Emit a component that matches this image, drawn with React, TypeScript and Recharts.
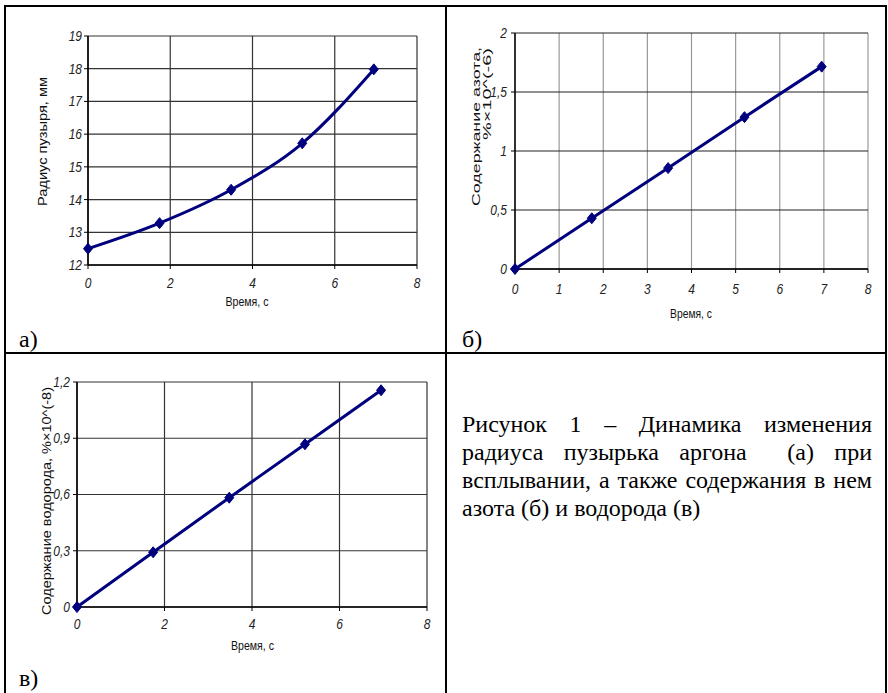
import React from 'react';
import { LineChart, Line, XAxis, YAxis, CartesianGrid } from 'recharts';

// а) радиус пузыря
const timeA = [0, 1.74, 3.48, 5.21, 6.95];
const radius = [12.5, 13.28, 14.3, 15.72, 17.98];
const radiusTicks = [12, 13, 14, 15, 16, 17, 18, 19];
const timeTicksA = [0, 2, 4, 6, 8];

// б) азот
const timeB = [0, 1.74, 3.47, 5.2, 6.95];
const nitrogen = [0, 0.43, 0.855, 1.287, 1.715];
const nitrogenTicks = [0, 0.5, 1, 1.5, 2];
const timeTicksB = [0, 1, 2, 3, 4, 5, 6, 7, 8];

// в) водород
const timeC = [0, 1.74, 3.48, 5.21, 6.95];
const hydrogen = [0, 0.292, 0.583, 0.868, 1.156];
const hydrogenTicks = [0, 0.3, 0.6, 0.9, 1.2];
const timeTicksC = [0, 2, 4, 6, 8];

const radiusData = timeA.map((t, i) => ({ t, v: radius[i] }));
const nitrogenData = timeB.map((t, i) => ({ t, v: nitrogen[i] }));
const hydrogenData = timeC.map((t, i) => ({ t, v: hydrogen[i] }));

const NAVY = '#00007f';
const SANS = 'Arial, "Liberation Sans", sans-serif';
const SERIF = '"Times New Roman", "Liberation Serif", "DejaVu Serif", serif';

const fmt = (v: number) => String(v).replace('.', ',');

function Diamond(props: any) {
    const { cx, cy, index } = props;
    if (cx == null || cy == null) return null;
    return (
        <polygon
            key={`dm-${index}`}
            points={`${cx},${cy - 5.5} ${cx + 4.5},${cy} ${cx},${cy + 5.5} ${cx - 4.5},${cy}`}
            fill={NAVY}
            stroke={NAVY}
            strokeWidth={1}
        />
    );
}

function YTick(props: any) {
    const { x, y, payload } = props;
    return (
        <g transform={`translate(${x},${y}) scale(0.8,1)`}>
            <text x={0} y={0} textAnchor="end" dominantBaseline="central" fontSize={15} fontStyle="italic" fontFamily={SANS} fill="#222">
                {fmt(payload.value)}
            </text>
        </g>
    );
}

function XTick(props: any) {
    const { x, y, payload } = props;
    return (
        <g transform={`translate(${x},${y}) scale(0.8,1)`}>
            <text x={0} y={0} dy="0.72em" textAnchor="middle" fontSize={15} fontStyle="italic" fontFamily={SANS} fill="#222">
                {fmt(payload.value)}
            </text>
        </g>
    );
}

const axisLine = { stroke: '#000', strokeWidth: 1.5 };
const tickLine = { stroke: '#000' };

function Title({ x, y, len, rotate, anchor = 'middle', size = 13, children }: any) {
    return (
        <text
            x={x}
            y={y}
            textAnchor={anchor}
            dominantBaseline="central"
            fontSize={size}
            fontFamily={SANS}
            fill="#111"
            textLength={len}
            lengthAdjust="spacingAndGlyphs"
            transform={rotate ? `rotate(-90 ${x} ${y})` : undefined}
        >
            {children}
        </text>
    );
}

function PanelLetter({ x, y, children }: any) {
    return (
        <text x={x} y={y} fontSize={24} fontFamily={SERIF} fill="#000">
            {children}
        </text>
    );
}

const overlay = (left: number, top: number, w: number, h: number): React.CSSProperties => ({
    position: 'absolute',
    left,
    top,
    width: w,
    height: h,
    pointerEvents: 'none',
});

const line = (s: React.CSSProperties): React.CSSProperties => ({ position: 'absolute', background: '#000', ...s });

export default function App() {
    return (
        <div style={{ position: 'absolute', left: 0, top: 0, width: 888, height: 693, background: '#fff', overflow: 'hidden' }}>
            {/* а) */}
            <div style={{ position: 'absolute', left: 0, top: 0 }}>
                <LineChart width={447} height={352} data={radiusData} margin={{ top: 36, right: 30, bottom: 57, left: 48 }}>
                    <CartesianGrid stroke="#333" strokeWidth={1.2} />
                    <XAxis type="number" dataKey="t" domain={[0, 8]} ticks={timeTicksA} interval={0} tickSize={4} tickMargin={8} tick={(p: any) => <XTick {...p} />} axisLine={axisLine} tickLine={tickLine} />
                    <YAxis type="number" domain={[12, 19]} ticks={radiusTicks} interval={0} width={40} tickSize={4} tickMargin={2} tick={(p: any) => <YTick {...p} />} axisLine={axisLine} tickLine={tickLine} />
                    <Line type="monotone" dataKey="v" stroke={NAVY} strokeWidth={3} dot={Diamond} activeDot={false} isAnimationActive={false} />
                </LineChart>
            </div>
            <svg style={overlay(0, 0, 447, 352)} width={447} height={352}>
                <Title x={42} y={141.5} len={129} rotate>Радиус пузыря, мм</Title>
                <Title x={247} y={301} len={43}>Время, с</Title>
                <PanelLetter x={19} y={347}>а)</PanelLetter>
            </svg>

            {/* б) */}
            <div style={{ position: 'absolute', left: 447, top: 0 }}>
                <LineChart width={439} height={352} data={nitrogenData} margin={{ top: 33, right: 18, bottom: 53, left: 28 }}>
                    <CartesianGrid stroke="#999" strokeWidth={1.2} horizontal={false} />
                    <CartesianGrid stroke="#222" strokeWidth={1.2} vertical={false} />
                    <XAxis type="number" dataKey="t" domain={[0, 8]} ticks={timeTicksB} interval={0} tickSize={4} tickMargin={10} tick={(p: any) => <XTick {...p} />} axisLine={axisLine} tickLine={tickLine} />
                    <YAxis type="number" domain={[0, 2]} ticks={nitrogenTicks} interval={0} width={40} tickSize={4} tickMargin={4} tick={(p: any) => <YTick {...p} />} axisLine={axisLine} tickLine={tickLine} />
                    <Line type="linear" dataKey="v" stroke={NAVY} strokeWidth={3} dot={Diamond} activeDot={false} isAnimationActive={false} />
                </LineChart>
            </div>
            <svg style={overlay(447, 0, 439, 352)} width={439} height={352}>
                <Title x={29} y={47} len={159} rotate anchor="end" size={11}>Содержание азота,</Title>
                <Title x={40} y={48} len={92} rotate anchor="end" size={11}>%×10^(-6)</Title>
                <Title x={244} y={313} len={42}>Время, с</Title>
                <PanelLetter x={15} y={347}>б)</PanelLetter>
            </svg>

            {/* в) */}
            <div style={{ position: 'absolute', left: 0, top: 352 }}>
                <LineChart width={447} height={341} data={hydrogenData} margin={{ top: 30, right: 20, bottom: 56, left: 37 }}>
                    <CartesianGrid stroke="#333" strokeWidth={1.2} />
                    <XAxis type="number" dataKey="t" domain={[0, 8]} ticks={timeTicksC} interval={0} tickSize={4} tickMargin={7} tick={(p: any) => <XTick {...p} />} axisLine={axisLine} tickLine={tickLine} />
                    <YAxis type="number" domain={[0, 1.2]} ticks={hydrogenTicks} interval={0} width={40} tickSize={4} tickMargin={3} tick={(p: any) => <YTick {...p} />} axisLine={axisLine} tickLine={tickLine} />
                    <Line type="linear" dataKey="v" stroke={NAVY} strokeWidth={3} dot={Diamond} activeDot={false} isAnimationActive={false} />
                </LineChart>
            </div>
            <svg style={overlay(0, 352, 447, 341)} width={447} height={341}>
                <Title x={46} y={149} len={228} rotate>Содержание водорода, %×10^(-8)</Title>
                <Title x={252.5} y={293} len={43}>Время, с</Title>
                <PanelLetter x={19} y={334}>в)</PanelLetter>
            </svg>

            {/* подпись */}
            <div
                style={{
                    position: 'absolute',
                    left: 462,
                    top: 410,
                    width: 410,
                    fontFamily: SERIF,
                    fontSize: 24,
                    lineHeight: '28px',
                    color: '#000',
                }}
            >
                {['Рисунок 1 – Динамика изменения', 'радиуса пузырька аргона \u00a0(а) при', 'всплывании, а также содержания в нем'].map((s, i) => (
                    <div key={i} style={{ textAlign: 'justify', textAlignLast: 'justify', whiteSpace: 'nowrap' }}>
                        {s}
                    </div>
                ))}
                <div>азота (б) и водорода (в)</div>
            </div>

            {/* рамка таблицы */}
            <div style={line({ left: 5, top: 5, width: 882, height: 2 })} />
            <div style={line({ left: 5, top: 352, width: 882, height: 2 })} />
            <div style={line({ left: 4, top: 5, width: 2, height: 688 })} />
            <div style={line({ left: 445, top: 5, width: 2, height: 688 })} />
            <div style={line({ left: 885, top: 5, width: 2, height: 688 })} />
        </div>
    );
}
